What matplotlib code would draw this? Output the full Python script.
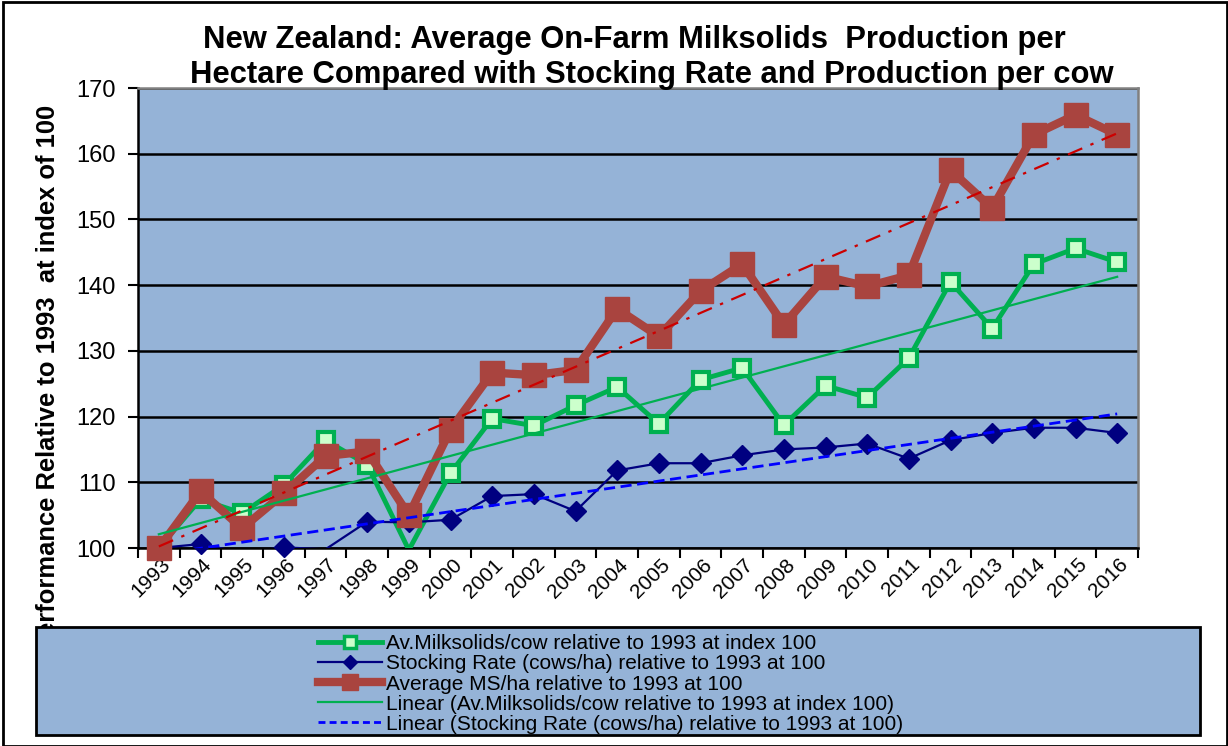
import numpy as np
import matplotlib
matplotlib.use("Agg")
import matplotlib.pyplot as plt
import matplotlib.transforms as mtransforms
from matplotlib.lines import Line2D
from matplotlib.patches import Rectangle

# Index values, 1993 = 100
years = [str(y) for y in range(1993, 2017)]
ms_per_cow = [100.0, 107.4, 105.3, 109.6, 116.4, 112.7, 99.7, 111.4, 119.7, 118.6, 121.7, 124.5,
              118.9, 125.6, 127.4, 118.7, 124.7, 122.9, 128.9, 140.5, 133.4, 143.2, 145.6, 143.5]
stocking_rate = [100.0, 100.6, 99.3, 100.1, 99.8, 104.0, 103.9, 104.3, 107.9, 108.2, 105.6, 111.8,
                 112.9, 112.9, 114.1, 115.0, 115.3, 115.9, 113.6, 116.4, 117.5, 118.3, 118.3, 117.5]
ms_per_ha = [100.0, 108.6, 103.0, 108.3, 114.0, 114.7, 105.0, 118.0, 126.7, 126.3, 127.1, 136.4,
             132.2, 139.1, 143.2, 134.0, 141.3, 139.8, 141.5, 157.5, 151.7, 162.9, 165.9, 162.9]

labels = ["Av.Milksolids/cow relative to 1993 at index 100",
          "Stocking Rate (cows/ha) relative to 1993 at 100",
          "Average MS/ha relative to 1993 at 100",
          "Linear (Av.Milksolids/cow relative to 1993 at index 100)",
          "Linear (Stocking Rate (cows/ha) relative to 1993 at 100)"]

GREEN = "#00B050"
PALE = "#CCFFCC"
NAVY = "#000080"
RED = "#A9443F"
BG = "#95B3D7"
YMIN, YMAX = 100, 170

plt.rcParams["font.family"] = ["Liberation Sans", "DejaVu Sans"]

W, H = 1228, 746
fig = plt.figure(figsize=(W / 100, H / 100), dpi=100)
ax = fig.add_axes([138 / W, 1 - 548 / H, 1000 / W, 460 / H])
ax.set_facecolor(BG)

x = np.arange(len(years))


def shown(vals):
    # points below the axis minimum get no marker
    v = np.array(vals, dtype=float)
    return np.where(v >= YMIN, v, np.nan)


def trend(vals):
    k, b = np.polyfit(x, vals, 1)
    return k * x + b


# series lines (clipped at the plot edge) and their markers
ax.plot(x, ms_per_cow, color=GREEN, lw=3.5, zorder=3)
ax.plot(x, shown(ms_per_cow), ls="none", marker="s", ms=12, mfc=PALE, mec=GREEN, mew=3,
        clip_on=False, zorder=3)
ax.plot(x, stocking_rate, color=NAVY, lw=1.6, zorder=4)
ax.plot(x, shown(stocking_rate), ls="none", marker="D", ms=10, mfc=NAVY, mec=NAVY,
        clip_on=False, zorder=4)
ax.plot(x, ms_per_ha, color=RED, lw=6, zorder=5)
ax.plot(x, shown(ms_per_ha), ls="none", marker="s", ms=17, mfc=RED, mec=RED,
        clip_on=False, zorder=5)

# linear trendlines
ax.plot(x, trend(ms_per_cow), color=GREEN, lw=1.6, zorder=6)
ax.plot(x, trend(stocking_rate), color="#0000FF", lw=2, ls=(0, (4, 2)), zorder=6)
ax.plot(x, trend(ms_per_ha), color="#CC0000", lw=1.6, ls=(0, (7, 4, 1.5, 4)), zorder=6)

ax.set_xlim(-0.5, len(years) - 0.5)
ax.set_ylim(YMIN, YMAX)
ax.set_yticks(range(100, 171, 10))
ax.yaxis.grid(True, color="black", lw=1.8)
ax.set_axisbelow(True)
ax.tick_params(axis="y", direction="out", length=7, width=1.5, labelsize=17, pad=9)

ax.set_xticks(x)
ax.set_xticks(np.arange(-0.5, len(years)), minor=True)
ax.tick_params(axis="x", which="major", length=0, labelsize=15, pad=5)
ax.tick_params(axis="x", which="minor", direction="out", length=7, width=1.5)
ax.set_xticklabels(years, rotation=45, ha="right", va="top")
shift = mtransforms.ScaledTranslation(15 / 100, 0, fig.dpi_scale_trans)
for lab in ax.get_xticklabels():
    lab.set_transform(lab.get_transform() + shift)

for side in ["left", "bottom"]:
    ax.spines[side].set_color("black")
    ax.spines[side].set_linewidth(1.8)
for side in ["top", "right"]:
    ax.spines[side].set_color("#808080")
    ax.spines[side].set_linewidth(1.8)

# two-line title
fig.text(634 / W, 1 - 48 / H, "New Zealand: Average On-Farm Milksolids  Production per",
         ha="center", va="baseline", fontsize=22.3, fontweight="bold")
fig.text(652 / W, 1 - 83 / H, "Hectare Compared with Stocking Rate and Production per cow",
         ha="center", va="baseline", fontsize=22.3, fontweight="bold")

fig.text(48 / W, 1 - 105 / H, "Performance Relative to 1993  at index of 100",
         rotation=90, ha="center", va="top", fontsize=18.4, fontweight="bold", zorder=1)

# legend panel
fig.patches.append(Rectangle((36 / W, 1 - 735 / H), 1164 / W, 108 / H, transform=fig.transFigure,
                             facecolor=BG, edgecolor="black", lw=2, zorder=4))
handles = [
    Line2D([], [], color=GREEN, lw=3.5, marker="s", ms=9, mfc=PALE, mec=GREEN, mew=2.5),
    Line2D([], [], color=NAVY, lw=1.6, marker="D", ms=7, mfc=NAVY, mec=NAVY),
    Line2D([], [], color=RED, lw=6, marker="s", ms=11, mfc=RED, mec=RED),
    Line2D([], [], color=GREEN, lw=1.6),
    Line2D([], [], color="#0000FF", lw=2, ls=(0, (2.5, 1.5))),
]
leg = fig.legend(handles, labels, loc="upper left", bbox_to_anchor=(308 / W, 1 - 624 / H),
                 frameon=False, fontsize=15, labelspacing=0.05, handlelength=3.05,
                 handletextpad=0.2, borderpad=0)
leg.set_zorder(5)

# chart border
fig.patches.append(Rectangle((3 / W, 0), 1224 / W, 1 - 2 / H, transform=fig.transFigure,
                             facecolor="none", edgecolor="black", lw=2, zorder=6))

fig.savefig("out.png", dpi=100)
